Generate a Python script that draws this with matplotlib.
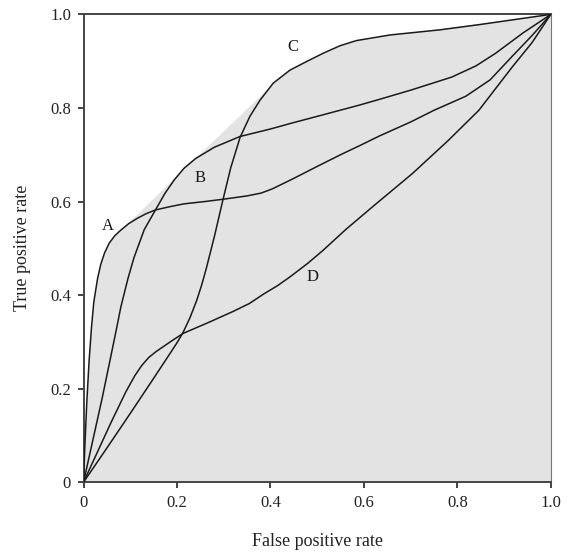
import numpy as np
import matplotlib
matplotlib.use("Agg")
import matplotlib.pyplot as plt

plt.rcParams['font.family'] = ['Liberation Serif', 'DejaVu Serif']

# ROC curves (false positive rate, true positive rate)
a_fpr = [0, 0.003, 0.007, 0.012, 0.017, 0.022, 0.03, 0.037, 0.045, 0.055, 0.067, 0.08, 0.097,
         0.115, 0.134, 0.154, 0.185, 0.215, 0.26, 0.30, 0.35, 0.38, 0.404, 0.447, 0.5, 0.55,
         0.59, 0.633, 0.7, 0.75, 0.818, 0.87, 0.917, 0.96, 1.0]
a_tpr = [0, 0.08, 0.17, 0.26, 0.33, 0.385, 0.435, 0.466, 0.49, 0.511, 0.527, 0.539, 0.553,
         0.564, 0.574, 0.582, 0.589, 0.595, 0.600, 0.605, 0.612, 0.618, 0.627, 0.648, 0.675, 0.70,
         0.719, 0.74, 0.77, 0.795, 0.825, 0.86, 0.91, 0.955, 1.0]

b_fpr = [0, 0.02, 0.04, 0.057, 0.07, 0.08, 0.095, 0.108, 0.13, 0.154, 0.174, 0.194, 0.215,
         0.24, 0.28, 0.335, 0.4, 0.447, 0.5, 0.59, 0.632, 0.7, 0.788, 0.84, 0.882, 0.94, 1.0]
b_tpr = [0, 0.09, 0.18, 0.262, 0.325, 0.375, 0.435, 0.48, 0.54, 0.582, 0.617, 0.646, 0.671,
         0.692, 0.716, 0.739, 0.755, 0.768, 0.782, 0.806, 0.818, 0.838, 0.866, 0.89, 0.917, 0.96, 1.0]

c_fpr = [0, 0.05, 0.1, 0.15, 0.185, 0.2, 0.213, 0.228, 0.242, 0.253, 0.263, 0.28, 0.297, 0.315,
         0.335, 0.356, 0.378, 0.406, 0.442, 0.477, 0.513, 0.549, 0.584, 0.656, 0.763, 0.846, 1.0]
c_tpr = [0, 0.073, 0.147, 0.222, 0.275, 0.298, 0.32, 0.352, 0.388, 0.422, 0.458, 0.525, 0.598, 0.672,
         0.737, 0.782, 0.817, 0.853, 0.881, 0.899, 0.917, 0.933, 0.944, 0.956, 0.967, 0.978, 1.0]

d_fpr = [0, 0.03, 0.06, 0.091, 0.11, 0.125, 0.14, 0.155, 0.171, 0.19, 0.213, 0.271, 0.32,
         0.355, 0.385, 0.415, 0.442, 0.48, 0.513, 0.561, 0.62, 0.704, 0.78, 0.846, 0.917, 0.96, 1.0]
d_tpr = [0, 0.065, 0.13, 0.194, 0.228, 0.25, 0.267, 0.279, 0.29, 0.303, 0.318, 0.343, 0.365,
         0.382, 0.402, 0.42, 0.439, 0.468, 0.496, 0.54, 0.59, 0.66, 0.73, 0.795, 0.887, 0.94, 1.0]

curve_names = ['A', 'B', 'C', 'D']
label_fpr = [0.052, 0.25, 0.448, 0.491]
label_tpr = [0.548, 0.65, 0.93, 0.438]

ticks = [0, 0.2, 0.4, 0.6, 0.8, 1.0]
tick_labels = ['0', '0.2', '0.4', '0.6', '0.8', '1.0']

curves = [(a_fpr, a_tpr), (b_fpr, b_tpr), (c_fpr, c_tpr), (d_fpr, d_tpr)]


def upper_hull(points):
    pts = sorted(set(points))
    hull = []
    for p in pts:
        while len(hull) >= 2:
            (x1, y1), (x2, y2) = hull[-2], hull[-1]
            cross = (x2 - x1) * (p[1] - y1) - (y2 - y1) * (p[0] - x1)
            if cross >= 0:
                hull.pop()
            else:
                break
        hull.append(p)
    return hull


all_pts = [(x, y) for fx, ty in curves for x, y in zip(fx, ty)]
hull = upper_hull(all_pts)
hx = [p[0] for p in hull]
hy = [p[1] for p in hull]

fig = plt.figure(figsize=(5.72, 5.53), dpi=100)
ax = fig.add_axes([0.146, 0.128, 0.817, 0.846])

ax.fill_between(hx, 0, hy, color='#e3e3e3', lw=0, zorder=1)

for fx, ty in curves:
    ax.plot(fx, ty, color='#1a1a1a', lw=1.1, zorder=3,
            solid_joinstyle='round', antialiased=True)

for name, lx, ly in zip(curve_names, label_fpr, label_tpr):
    ax.text(lx, ly, name, fontsize=12, ha='center', va='center', color='#1a1a1a', zorder=4)

ax.set_xlim(0, 1)
ax.set_ylim(0, 1)
ax.set_xticks(ticks)
ax.set_xticklabels(tick_labels)
ax.set_yticks(ticks)
ax.set_yticklabels(tick_labels)
ax.tick_params(direction='out', length=4, width=1.2, labelsize=12, colors='#222222', pad=5)

for side in ['left', 'bottom', 'top']:
    ax.spines[side].set_linewidth(1.4)
    ax.spines[side].set_color('#444444')
ax.spines['right'].set_linewidth(0.8)
ax.spines['right'].set_color('#777777')

ax.set_xlabel('False positive rate', fontsize=13, color='#222222', labelpad=16)
ax.set_ylabel('True positive rate', fontsize=13, color='#222222', labelpad=14)

fig.savefig('out.png', dpi=100)
